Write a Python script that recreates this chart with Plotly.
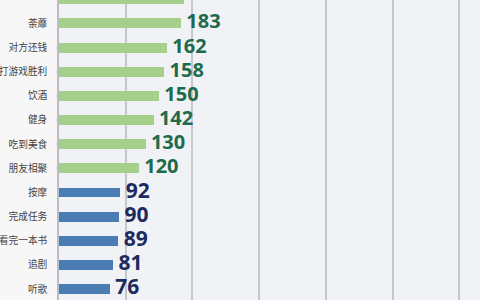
import plotly.graph_objects as go

categories = ["工资到账", "荼蘼", "对方还钱", "打游戏胜利", "饮酒", "健身", "吃到美食",
              "朋友相聚", "按摩", "完成任务", "看完一本书", "追剧", "听歌"]
values = [188, 183, 162, 158, 150, 142, 130, 120, 92, 90, 89, 81, 76]
groups = ["high"] * 8 + ["low"] * 5

bar_colors = {"high": "#a4d08c", "low": "#4a7db4"}
text_colors = {"high": "#1d6b4b", "low": "#1c2a5e"}
text_sizes = {"high": 20, "low": 21}

idx = list(range(len(categories)))

fig = go.Figure()
fig.add_trace(go.Bar(
    y=idx, x=values, orientation="h", width=0.41,
    marker=dict(color=[bar_colors[g] for g in groups], line=dict(width=0)),
    hoverinfo="skip", showlegend=False,
))
fig.add_trace(go.Scatter(
    y=idx, x=values, mode="text",
    text=[" " + str(v) for v in values],
    textposition="middle right",
    textfont=dict(family="Open Sans", size=[text_sizes[g] for g in groups],
                  color=[text_colors[g] for g in groups], weight="bold"),
    hoverinfo="skip", showlegend=False, cliponaxis=False,
))

fig.update_layout(
    width=480, height=300,
    margin=dict(l=59, r=0, t=0, b=0, autoexpand=False),
    paper_bgcolor="#f7f7f8",
    plot_bgcolor="#f1f2f5",
    bargap=0,
    xaxis=dict(range=[0, 631], dtick=100, tick0=0, showgrid=True,
               gridcolor="#c5c8cd", gridwidth=1.5, showticklabels=False,
               zeroline=False, showline=False, ticks="", automargin=False),
    yaxis=dict(range=[12.45, 0.03], tickvals=idx, ticktext=categories,
               showgrid=False, zeroline=False, showline=True,
               linecolor="#b9bcc2", linewidth=1.5, ticks="",
               ticklabelstandoff=8, automargin=False,
               tickfont=dict(family="Noto Sans CJK SC", size=9.7, color="#444444")),
)

fig.write_html("out.html")
